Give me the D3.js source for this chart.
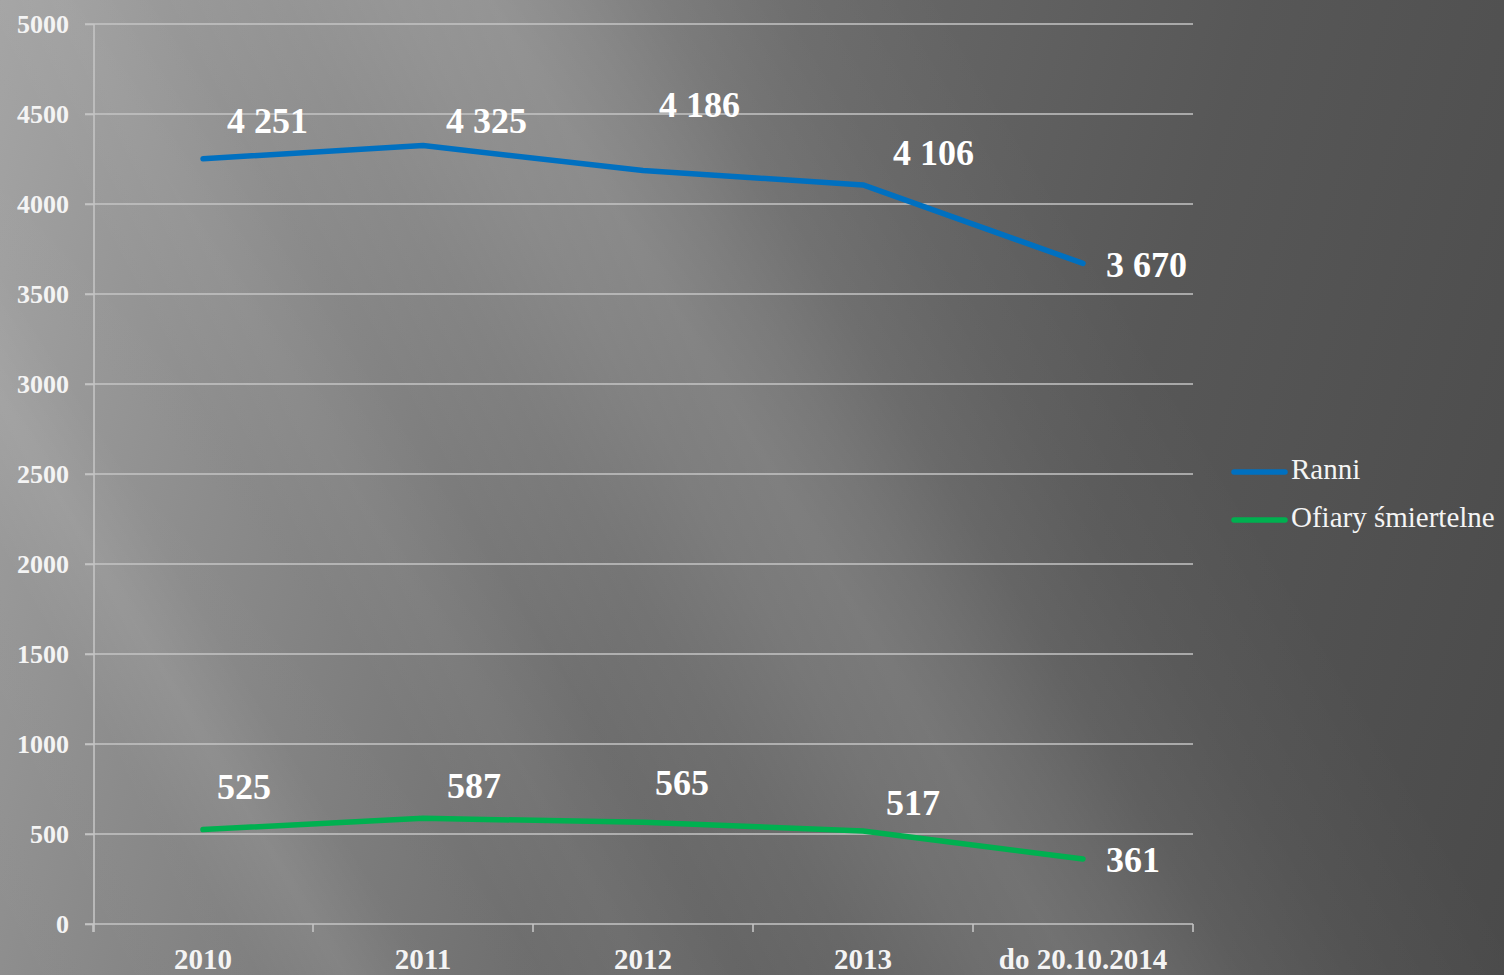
<!DOCTYPE html>
<html>
<head>
<meta charset="utf-8">
<script src="https://cdn.jsdelivr.net/npm/d3@7/dist/d3.min.js"></script>
<style>
  html, body { margin: 0; padding: 0; background: #555; overflow: hidden; }
  svg { display: block; }
</style>
</head>
<body>
<svg id="chart" width="1504" height="975"></svg>
<script>
// ---- data ----
const categories = ["2010", "2011", "2012", "2013", "do 20.10.2014"];
const ranni = [4251, 4325, 4186, 4106, 3670];
const ofiary = [525, 587, 565, 517, 361];
const seriesNames = ["Ranni", "Ofiary śmiertelne"];
const yTicks = [0, 500, 1000, 1500, 2000, 2500, 3000, 3500, 4000, 4500, 5000];

// ---- layout (label nudges, px) ----
const ranniLabelNudge = [[24, -26], [23, -12.5], [16, -53.5], [30, -20], [23, 13.5]];
const ofiaryLabelNudge = [[14, -30.5], [24, -20], [12, -27], [23, -16], [23, 13]];

const W = 1504, H = 975;
const svg = d3.select("#chart");
const FONT = "'Liberation Serif', 'Times New Roman', serif";

// ---- background ----
const defs = svg.append("defs");
const base = defs.append("linearGradient").attr("id", "bgBase")
  .attr("gradientUnits", "userSpaceOnUse")
  .attr("x1", 0).attr("y1", 0).attr("x2", 1650).attr("y2", 495);
[[0, "#a2a2a2"], [0.2, "#888888"], [0.45, "#6a6a6a"], [0.7, "#575757"], [1, "#4a4a4a"]]
  .forEach(([o, c]) => base.append("stop").attr("offset", o).attr("stop-color", c));

const streak = defs.append("linearGradient").attr("id", "bgStreak")
  .attr("gradientUnits", "userSpaceOnUse")
  .attr("x1", -514).attr("y1", 308).attr("x2", 1029).attr("y2", -617);
const uStops = [[-700, 0], [-330, 0.03], [-240, 0.1], [-160, 0.04], [-40, 0.03], [60, 0.06], [160, 0.03],
  [280, 0.07], [400, 0.14], [490, 0.17], [570, 0.13], [660, 0.07], [780, 0.03], [950, 0], [1400, 0]];
uStops.forEach(([u, a]) => streak.append("stop")
  .attr("offset", (u + 700) / 2100).attr("stop-color", "#ffffff").attr("stop-opacity", a));

svg.append("rect").attr("width", W).attr("height", H).attr("fill", "url(#bgBase)");
svg.append("rect").attr("width", W).attr("height", H).attr("fill", "url(#bgStreak)");

// ---- scales ----
const x = d3.scaleBand().domain(categories).range([93, 1193]).padding(0);
const y = d3.scaleLinear().domain([0, 5000]).range([924, 24]);
const cx = c => x(c) + x.bandwidth() / 2;

// ---- gridlines ----
svg.append("g").selectAll("line").data(yTicks.slice(1)).join("line")
  .attr("x1", 85).attr("x2", 1193)
  .attr("y1", d => y(d)).attr("y2", d => y(d))
  .attr("stroke", "#c4c4c4").attr("stroke-width", 1.6);

// ---- y axis ----
const yAxis = svg.append("g").attr("transform", "translate(94,0)")
  .call(d3.axisLeft(y).tickValues(yTicks).tickSize(9).tickPadding(16).tickFormat(d3.format("d")));
yAxis.select(".domain").attr("stroke", "#c4c4c4").attr("stroke-width", 1.6)
  .attr("d", "M0,24V932");
yAxis.selectAll(".tick line").attr("stroke", "#c4c4c4").attr("stroke-width", 1.6);
yAxis.selectAll(".tick text").attr("fill", "#f4f4f4").attr("font-family", FONT)
  .attr("font-size", 26).attr("font-weight", "bold").attr("dy", "0.34em");

// ---- x axis ----
const xAxis = svg.append("g").attr("transform", "translate(0,924)")
  .call(d3.axisBottom(x).tickSize(0).tickPadding(0));
xAxis.select(".domain").attr("stroke", "#c4c4c4").attr("stroke-width", 1.6)
  .attr("d", "M85,0H1193");
xAxis.selectAll(".tick text").attr("fill", "#f4f4f4").attr("font-family", FONT)
  .attr("font-size", 29).attr("font-weight", "bold").attr("y", 45).attr("dy", 0);
const bounds = categories.map(c => x(c)).concat([x(categories[categories.length - 1]) + x.bandwidth()]);
svg.append("g").selectAll("line").data(bounds).join("line")
  .attr("x1", d => d).attr("x2", d => d).attr("y1", 924).attr("y2", 932)
  .attr("stroke", "#c4c4c4").attr("stroke-width", 1.6);

// ---- lines ----
const colors = ["#0070c0", "#00b050"];
const seriesVals = [ranni, ofiary];
const nudges = [ranniLabelNudge, ofiaryLabelNudge];
const line = d3.line().x((d, i) => cx(categories[i])).y(d => y(d));
const fmt = d3.formatLocale({ decimal: ",", thousands: " ", grouping: [3], currency: ["", ""] }).format(",d");

seriesVals.forEach((vals, s) => {
  svg.append("path").datum(vals).attr("d", line)
    .attr("fill", "none").attr("stroke", colors[s]).attr("stroke-width", 5.5)
    .attr("stroke-linejoin", "round").attr("stroke-linecap", "round");
  svg.append("g").selectAll("text").data(vals).join("text")
    .attr("x", (d, i) => cx(categories[i]) + nudges[s][i][0])
    .attr("y", (d, i) => y(d) + nudges[s][i][1])
    .attr("fill", "#ffffff").attr("font-family", FONT).attr("font-size", 36)
    .attr("font-weight", "bold").text(d => fmt(d));
});

// ---- legend ----
const legend = svg.append("g");
seriesNames.forEach((n, i) => {
  const ly = 472 + i * 48;
  legend.append("line").attr("x1", 1234).attr("x2", 1285).attr("y1", ly).attr("y2", ly)
    .attr("stroke", colors[i]).attr("stroke-width", 5.5).attr("stroke-linecap", "round");
  legend.append("text").attr("x", 1291).attr("y", ly + 7).attr("fill", "#f4f4f4")
    .attr("font-family", FONT).attr("font-size", 29).text(n);
});
</script>
</body>
</html>
